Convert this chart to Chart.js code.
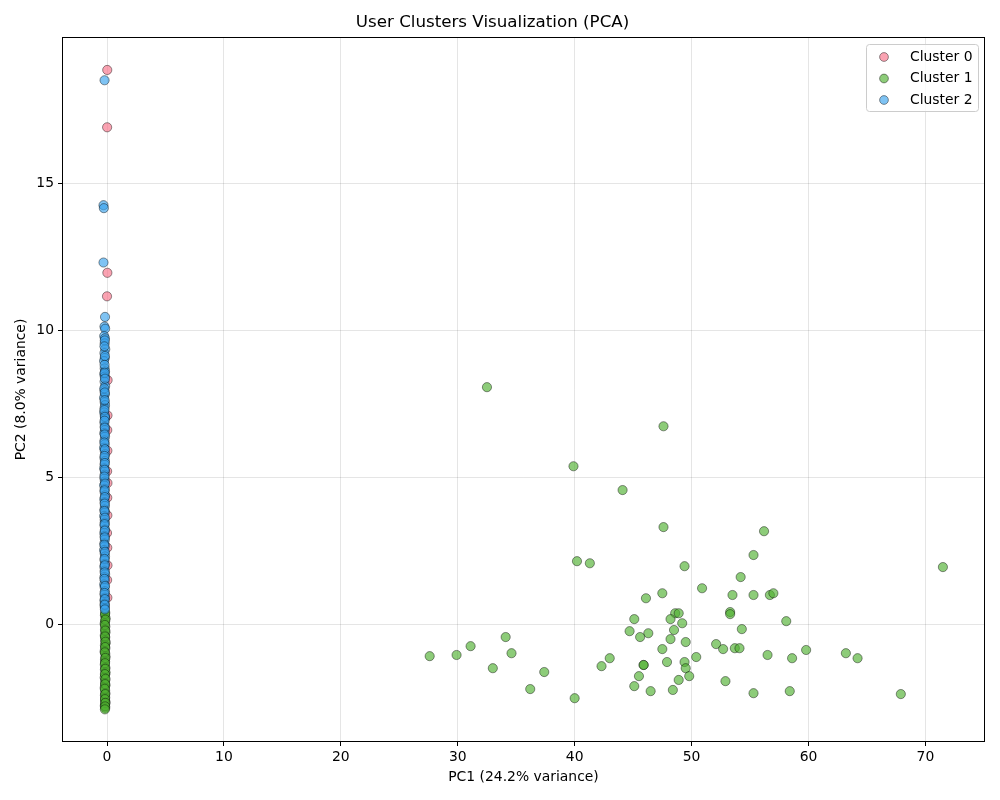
<!DOCTYPE html>
<html>
<head>
<meta charset="utf-8">
<script src="https://cdn.jsdelivr.net/npm/chart.js@4.4.1/dist/chart.umd.min.js"></script>
<style>
  html, body { margin: 0; padding: 0; background: #fff; }
  #wrap { width: 1000px; height: 800px; }
</style>
</head>
<body>
<div id="wrap"><canvas id="pca" width="1000" height="800"></canvas></div>
<script>
// cluster names and axis ticks
const clusterNames = ['Cluster 0', 'Cluster 1', 'Cluster 2'];
const xTickValues = [0, 10, 20, 30, 40, 50, 60, 70];
const yTickValues = [0, 5, 10, 15];

// Cluster 0 (pink) - all sit on the PC1 ~ 0 column
const c0X = [0.02, 0.01, 0.03, 0.0, 0.05, 0.04, 0.02, 0.03, 0.01, 0.04, 0.02, 0.03, 0.0, 0.02, 0.04, 0.01, 0.03];
const c0Y = [18.85, 16.9, 11.95, 11.15, 8.3, 7.1, 6.6, 5.9, 5.2, 4.8, 4.3, 3.7, 3.1, 2.6, 2.0, 1.5, 0.9];

// Cluster 1 (green) - column part near PC1 ~ 0
const c1ColX = [-0.15, -0.18, -0.12, -0.16, -0.2, -0.14, -0.17, -0.13, -0.19, -0.15,
  -0.16, -0.12, -0.18, -0.14, -0.2, -0.15, -0.13, -0.17, -0.16, -0.19,
  -0.14, -0.18, -0.12, -0.16, -0.2, -0.15, -0.17, -0.13, -0.19, -0.16,
  -0.14, -0.18, -0.15, -0.17, -0.13, -0.16, -0.19, -0.15,
  -0.16, -0.14, -0.18, -0.15, -0.17, -0.13, -0.16, -0.19, -0.14, -0.17,
  -0.15, -0.18, -0.13, -0.16, -0.19, -0.15, -0.17, -0.14, -0.16, -0.18];
const c1ColY = [0.4, 0.3, 0.2, 0.1, 0.02, -0.08, -0.18, -0.28, -0.38, -0.45,
  -0.55, -0.65, -0.72, -0.82, -0.92, -1.0, -1.1, -1.2, -1.28, -1.38,
  -1.48, -1.55, -1.65, -1.72, -1.82, -1.9, -2.0, -2.08, -2.15, -2.25,
  -2.35, -2.42, -2.5, -2.58, -2.65, -2.72, -2.78, -2.85,
  0.35, 0.15, -0.03, -0.22, -0.42, -0.6, -0.78, -0.96, -1.15, -1.33,
  -1.52, -1.7, -1.86, -2.04, -2.2, -2.38, -2.55, -2.68, -2.8, -2.9];

// Cluster 1 (green) - the spread out group on the right
const c1SpreadX = [32.5, 47.6, 39.9, 44.1, 47.6, 56.2, 55.3, 40.2, 41.3, 49.4,
  71.5, 54.2, 50.9, 47.5, 46.1, 53.5, 55.3, 56.7, 57.0, 48.6,
  48.9, 53.3, 53.3, 48.2, 45.1, 49.2, 58.1, 54.3, 48.5, 44.7,
  46.3, 45.6, 34.1, 48.2, 49.5, 31.1, 52.1, 47.5, 52.7, 53.7,
  54.1, 59.8, 63.2, 34.6, 27.6, 29.9, 43.0, 56.5, 50.4, 58.6,
  64.2, 45.9, 45.9, 49.4, 47.9, 42.3, 33.0, 49.5, 37.4, 45.5,
  49.8, 48.9, 52.9, 45.1, 36.2, 46.5, 48.4, 55.3, 58.4, 67.9,
  40.0];
const c1SpreadY = [8.06, 6.73, 5.37, 4.56, 3.30, 3.16, 2.35, 2.14, 2.07, 1.97,
  1.94, 1.60, 1.22, 1.05, 0.88, 0.99, 0.99, 0.99, 1.05, 0.37,
  0.37, 0.41, 0.34, 0.17, 0.17, 0.03, 0.10, -0.17, -0.20, -0.24,
  -0.31, -0.44, -0.44, -0.51, -0.61, -0.75, -0.68, -0.85, -0.85, -0.82,
  -0.82, -0.88, -0.99, -0.99, -1.09, -1.05, -1.16, -1.05, -1.12, -1.16,
  -1.16, -1.39, -1.39, -1.29, -1.29, -1.43, -1.50, -1.50, -1.63, -1.77,
  -1.77, -1.90, -1.94, -2.11, -2.21, -2.28, -2.24, -2.35, -2.28, -2.38,
  -2.52];

// Cluster 2 (blue) - column near PC1 ~ 0
const c2X = [-0.21, -0.30, -0.27, -0.30, -0.17, -0.22, -0.16, -0.24, -0.18, -0.2,
  -0.15, -0.22, -0.19, -0.25, -0.2, -0.17, -0.23, -0.19, -0.21, -0.16,
  -0.22, -0.18, -0.25, -0.2, -0.17, -0.21, -0.24, -0.19, -0.16, -0.22,
  -0.2, -0.18, -0.23, -0.17, -0.21, -0.19, -0.25, -0.2, -0.16, -0.22,
  -0.18, -0.21, -0.24, -0.17, -0.2, -0.22, -0.18, -0.25, -0.19, -0.21,
  -0.16, -0.23, -0.2, -0.18, -0.22, -0.17, -0.24, -0.2, -0.19, -0.21,
  -0.17, -0.23, -0.2, -0.18, -0.22, -0.19, -0.25, -0.2, -0.17, -0.21,
  -0.18, -0.23, -0.2, -0.16, -0.22, -0.19, -0.24, -0.2, -0.18, -0.21,
  -0.17, -0.22, -0.19, -0.2, -0.18,
  -0.19, -0.22, -0.18, -0.21, -0.2, -0.17, -0.23, -0.19, -0.2, -0.22,
  -0.18, -0.21, -0.19, -0.2, -0.23, -0.18, -0.21, -0.19, -0.2, -0.22,
  -0.17, -0.21, -0.19, -0.2, -0.22, -0.18, -0.21, -0.19, -0.2, -0.23,
  -0.18, -0.21, -0.19, -0.2, -0.22, -0.17, -0.21, -0.19, -0.2, -0.18];
const c2Y = [18.5, 14.25, 14.15, 12.3, 10.45, 10.12, 10.05, 9.8, 9.72, 9.55,
  9.35, 9.22, 9.05, 8.95, 8.7, 8.6, 8.5, 8.42, 8.25, 8.1,
  7.95, 7.82, 7.7, 7.55, 7.45, 7.35, 7.2, 7.1, 7.0, 6.85,
  6.72, 6.6, 6.5, 6.38, 6.25, 6.12, 6.0, 5.9, 5.78, 5.65,
  5.55, 5.42, 5.3, 5.2, 5.08, 4.95, 4.85, 4.72, 4.6, 4.5,
  4.38, 4.25, 4.15, 4.02, 3.9, 3.8, 3.68, 3.55, 3.45, 3.35,
  3.22, 3.1, 3.0, 2.88, 2.75, 2.65, 2.52, 2.4, 2.3, 2.18,
  2.05, 1.95, 1.82, 1.7, 1.6, 1.48, 1.35, 1.25, 1.12, 1.0,
  0.9, 0.8, 0.7, 0.62, 0.55,
  9.65, 9.45, 9.12, 8.82, 8.55, 8.35, 8.02, 7.88, 7.62, 7.28,
  7.05, 6.92, 6.68, 6.45, 6.18, 5.95, 5.72, 5.48, 5.25, 5.02,
  4.78, 4.55, 4.32, 4.1, 3.85, 3.62, 3.4, 3.18, 2.95, 2.7,
  2.46, 2.22, 2.0, 1.76, 1.54, 1.3, 1.06, 0.85, 0.66, 0.5];

const fills = ['rgba(247,113,137,0.65)', 'rgba(80,177,49,0.65)', 'rgba(59,163,236,0.65)'];

function pts(xs, ys) {
  return xs.map((x, i) => ({ x: x, y: ys[i] }));
}

const c1X = c1ColX.concat(c1SpreadX);
const c1Y = c1ColY.concat(c1SpreadY);

// frame round the plot + boxed legend in the top right corner
const framePlugin = {
  id: 'frameAndLegend',
  afterDraw(chart) {
    const ctx = chart.ctx;
    const a = chart.chartArea;
    ctx.save();
    ctx.strokeStyle = '#000';
    ctx.lineWidth = 1;
    ctx.strokeRect(Math.round(a.left) + 0.5, Math.round(a.top) + 0.5,
      Math.round(a.right - a.left) - 1, Math.round(a.bottom - a.top) - 1);

    // legend
    const bx = 866, by = 44, bw = 112, bh = 67;
    ctx.beginPath();
    ctx.roundRect(bx + 0.5, by + 0.5, bw, bh, 3);
    ctx.fillStyle = 'rgba(255,255,255,0.8)';
    ctx.fill();
    ctx.strokeStyle = '#cccccc';
    ctx.stroke();
    ctx.font = '13.9px "DejaVu Sans"';
    ctx.textBaseline = 'middle';
    clusterNames.forEach((name, i) => {
      const y = 57 + i * 21.5;
      ctx.beginPath();
      ctx.arc(884, y, 4.4, 0, Math.PI * 2);
      ctx.fillStyle = fills[i];
      ctx.fill();
      ctx.lineWidth = 0.7;
      ctx.strokeStyle = 'rgba(0,0,0,0.6)';
      ctx.stroke();
      ctx.fillStyle = '#000';
      ctx.fillText(name, 910, y);
    });
    ctx.restore();
  }
};

Chart.defaults.font.family = '"DejaVu Sans", sans-serif';
Chart.defaults.color = '#000';

const pcaChart = new Chart(document.querySelector('#pca'), {
  type: 'scatter',
  data: {
    datasets: [
      { label: clusterNames[0], data: pts(c0X, c0Y), backgroundColor: fills[0], order: 2 },
      { label: clusterNames[1], data: pts(c1X, c1Y), backgroundColor: fills[1], order: 1 },
      { label: clusterNames[2], data: pts(c2X, c2Y), backgroundColor: fills[2], order: 0 }
    ]
  },
  options: {
    responsive: false,
    animation: false,
    devicePixelRatio: 1,
    layout: { padding: { left: 0, right: 15, top: 0, bottom: 0 } },
    elements: {
      point: { radius: 4.6, borderWidth: 0.7, borderColor: 'rgba(0,0,0,0.6)', hoverRadius: 4.6 }
    },
    plugins: {
      legend: { display: false },
      tooltip: { enabled: false },
      title: {
        display: true,
        text: 'User Clusters Visualization (PCA)',
        font: { size: 16.7, weight: 'normal' },
        color: '#000',
        padding: { top: 13, bottom: 4 }
      }
    },
    scales: {
      x: {
        type: 'linear',
        min: -3.85,
        max: 75.1,
        afterBuildTicks: s => { s.ticks = xTickValues.map(v => ({ value: v })); },
        afterFit: s => { s.height = 58; },
        ticks: { font: { size: 13.9 }, padding: 3, maxRotation: 0 },
        grid: { color: 'rgba(0,0,0,0.1)', tickColor: '#000', tickLength: 4 },
        border: { display: false },
        title: {
          display: true,
          text: 'PC1 (24.2% variance)',
          font: { size: 13.9 },
          padding: { top: 4, bottom: 14 }
        }
      },
      y: {
        type: 'linear',
        min: -4.01,
        max: 19.97,
        afterBuildTicks: s => { s.ticks = yTickValues.map(v => ({ value: v })); },
        afterFit: s => { s.width = 62; },
        ticks: { font: { size: 13.9 }, padding: 4 },
        grid: { color: 'rgba(0,0,0,0.1)', tickColor: '#000', tickLength: 4 },
        border: { display: false },
        title: {
          display: true,
          text: 'PC2 (8.0% variance)',
          font: { size: 13.9 },
          padding: { top: 13, bottom: 4 }
        }
      }
    }
  },
  plugins: [framePlugin]
});
</script>
</body>
</html>
